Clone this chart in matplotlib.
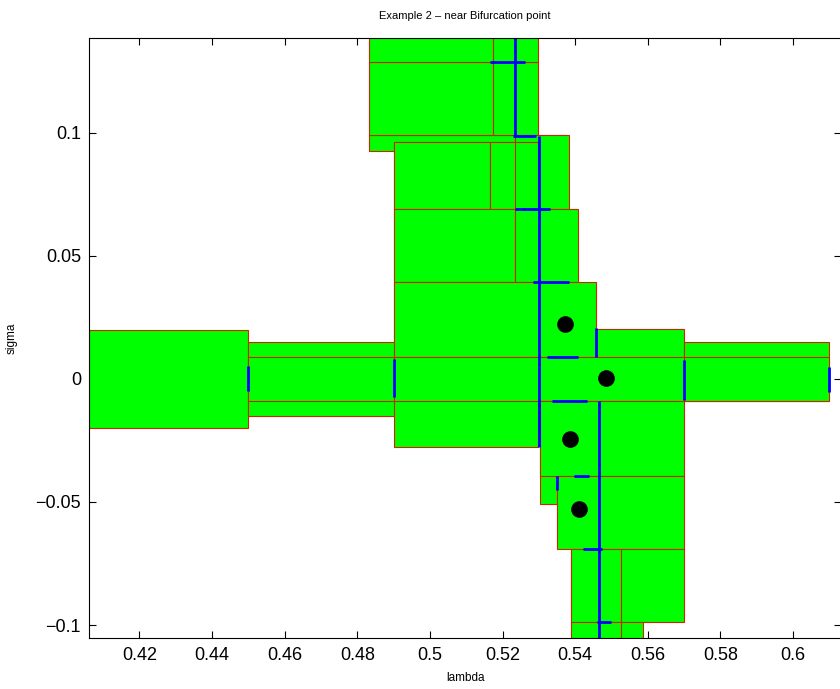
import matplotlib
matplotlib.use("Agg")
import matplotlib.pyplot as plt
from matplotlib.patches import Rectangle

plt.rcParams['font.family'] = ['Liberation Sans', 'DejaVu Sans']

# boxes in drawing order: lambda from/to, sigma from/to
box_x0 = [0.4833, 0.4833, 0.5175, 0.4833, 0.5175, 0.5234,
          0.49, 0.49, 0.5165, 0.49, 0.5234, 0.49,
          0.395, 0.45, 0.45, 0.5456, 0.57, 0.57, 0.49,
          0.5303, 0.5303, 0.5351, 0.5388, 0.5526, 0.5388, 0.5526]
box_x1 = [0.5297, 0.5175, 0.5297, 0.5175, 0.5297, 0.5384,
          0.5297, 0.5165, 0.5234, 0.5234, 0.5407, 0.5456,
          0.45, 0.49, 0.49, 0.57, 0.61, 0.61, 0.57,
          0.5351, 0.57, 0.57, 0.5526, 0.57, 0.5526, 0.5588]
box_y0 = [0.0927, 0.0990, 0.0990, 0.1288, 0.1288, 0.0690,
          -0.0277, 0.0690, 0.0690, 0.0392, 0.0392, 0.0090,
          -0.020, -0.015, -0.009, -0.009, -0.009, -0.009, -0.009,
          -0.0508, -0.0393, -0.069, -0.0989, -0.0989, -0.12, -0.12]
box_y1 = [0.0990, 0.1288, 0.1288, 0.16, 0.16, 0.0990,
          0.0963, 0.0963, 0.0963, 0.0690, 0.0690, 0.0392,
          0.020, 0.015, 0.009, 0.0203, 0.015, 0.009, 0.009,
          -0.009, -0.009, -0.0393, -0.069, -0.069, -0.0989, -0.0989]

# blue horizontal pieces: lambda from/to at sigma
hseg_x0 = [0.5166, 0.5229, 0.5233, 0.5283, 0.5322, 0.5335, 0.5397, 0.5421, 0.5460]
hseg_x1 = [0.5262, 0.5292, 0.5332, 0.5383, 0.5409, 0.5432, 0.5439, 0.5473, 0.5500]
hseg_y = [0.1288, 0.0985, 0.0689, 0.0392, 0.0090, -0.0090, -0.0393, -0.0690, -0.0989]

# blue vertical pieces: lambda, sigma from/to
vseg_x = [0.5234, 0.5299, 0.5351, 0.5466, 0.45, 0.49, 0.5456, 0.57, 0.61]
vseg_y0 = [0.0985, -0.0277, -0.0450, -0.12, -0.005, -0.0075, 0.0090, -0.0085, -0.0053]
vseg_y1 = [0.16, 0.0985, -0.0393, -0.0090, 0.005, 0.0080, 0.0207, 0.0077, 0.0048]

# black dots
dot_x = [0.5372, 0.5485, 0.5386, 0.5411]
dot_y = [0.0222, 0.0003, -0.0245, -0.0530]

xticks = [0.42, 0.44, 0.46, 0.48, 0.5, 0.52, 0.54, 0.56, 0.58, 0.6]
xticklabels = ['0.42', '0.44', '0.46', '0.48', '0.5', '0.52', '0.54', '0.56', '0.58', '0.6']
yticks = [-0.1, -0.05, 0, 0.05, 0.1]
yticklabels = ['\u22120.1', '\u22120.05', '0', '0.05', '0.1']

fig = plt.figure(figsize=(8.4, 6.89), dpi=100)
# right edge of the axes sits just outside the picture, as in the original
ax = fig.add_axes([89.3 / 840, 1 - 638.3 / 689, (841 - 89.3) / 840, (638.3 - 38.3) / 689])

for i in range(len(box_x0)):
    ax.add_patch(Rectangle((box_x0[i], box_y0[i]), box_x1[i] - box_x0[i], box_y1[i] - box_y0[i],
                           facecolor=(0, 1, 0), edgecolor=(0.8, 0.15, 0), linewidth=0.8, zorder=2 + i * 0.01))

for i in range(len(hseg_y)):
    ax.plot([hseg_x0[i], hseg_x1[i]], [hseg_y[i], hseg_y[i]], color='blue', lw=2, zorder=5,
            solid_capstyle='butt')
for i in range(len(vseg_x)):
    ax.plot([vseg_x[i], vseg_x[i]], [vseg_y0[i], vseg_y1[i]], color='blue', lw=2, zorder=5,
            solid_capstyle='butt')

ax.plot(dot_x, dot_y, 'o', color='black', markersize=11, zorder=6)

ax.set_xlim(0.4062, 0.6132)
ax.set_ylim(-0.1054, 0.1383)
ax.set_xticks(xticks)
ax.set_xticklabels(xticklabels)
ax.set_yticks(yticks)
ax.set_yticklabels(yticklabels)
ax.tick_params(direction='in', length=5, width=0.8, top=True, right=True, labelsize=13, pad=6)
for s in ax.spines.values():
    s.set_linewidth(0.8)
    s.set_zorder(10)

ax.set_title('Example 2 \u2013 near Bifurcation point', fontsize=8, pad=14)
ax.set_xlabel('lambda', fontsize=8.5, labelpad=6)
ax.set_ylabel('sigma', fontsize=8.5, labelpad=13)

fig.savefig('out.png', dpi=100)
